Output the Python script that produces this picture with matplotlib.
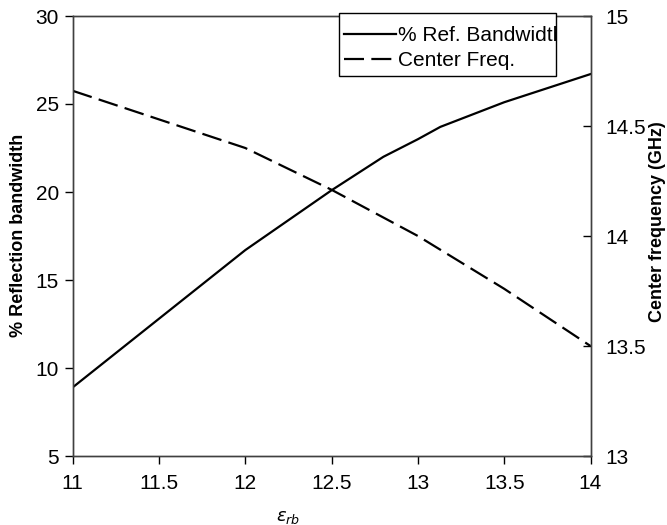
import matplotlib
matplotlib.use("Agg")
import matplotlib.pyplot as plt
from matplotlib.patches import Rectangle

# values
eps_bw = [11, 11.5, 12, 12.5, 12.8, 13, 13.13, 13.5, 14]
ref_bw = [8.9, 12.8, 16.7, 20.1, 22.0, 23.0, 23.7, 25.1, 26.7]

eps_fc = [11, 11.5, 12, 12.5, 13, 13.5, 14]
center_freq = [14.66, 14.53, 14.40, 14.21, 14.00, 13.76, 13.50]

x_ticks = [11, 11.5, 12, 12.5, 13, 13.5, 14]
left_ticks = [5, 10, 15, 20, 25, 30]
right_ticks = [13, 13.5, 14, 14.5, 15]

plt.rcParams['font.family'] = ['Liberation Sans', 'DejaVu Sans']

W, H = 667, 525
fig = plt.figure(figsize=(W / 100, H / 100), dpi=100)
ax = fig.add_axes([72.7 / W, 1 - 456 / H, (590.5 - 72.7) / W, 440 / H])
ax2 = ax.twinx()

l1, = ax.plot(eps_bw, ref_bw, color='black', lw=1.6, label='% Ref. Bandwidth')
l2, = ax2.plot(eps_fc, center_freq, color='black', lw=1.6, dashes=(9, 3.3), label='Center Freq.')

ax.set_xlim(11, 14)
ax.set_ylim(5, 30)
ax2.set_ylim(13, 15)
ax.set_xticks(x_ticks)
ax.set_xticklabels([f"{t:g}" for t in x_ticks])
ax.set_yticks(left_ticks)
ax2.set_yticks(right_ticks)
ax2.set_yticklabels([f"{t:g}" for t in right_ticks])

ax.tick_params(direction='out', length=6, width=1, labelsize=15, colors='black')
ax.tick_params(axis='x', pad=7)
ax.tick_params(axis='y', pad=4)
ax2.tick_params(direction='in', length=6, width=1, labelsize=15, colors='black', pad=11)
for a in (ax, ax2):
    for s in a.spines.values():
        s.set_color('#404040')
        s.set_linewidth(1)

fig.text(19 / W, 1 - 235 / H, '% Reflection bandwidth', rotation=90, fontsize=13,
         fontweight='bold', ha='center', va='center')
fig.text(657 / W, 1 - 222 / H, 'Center frequency (GHz)', rotation=90, fontsize=13,
         fontweight='bold', ha='center', va='center')
fig.text(288 / W, 1 - 517 / H, r'$\varepsilon_{rb}$', fontsize=13, family='serif',
         ha='center', va='center')

# legend box with the label clipped at its right edge, as in the reference
box = Rectangle((339 / W, 1 - 76 / H), (556 - 339) / W, 63 / H, transform=fig.transFigure,
                facecolor='white', edgecolor='black', lw=1, zorder=4)
fig.patches.append(box)
leg = fig.legend(handles=[l1, l2], loc='upper left', bbox_to_anchor=(339 / W, 1 - 21 / H),
                 fontsize=15, frameon=False, handlelength=2.5, handletextpad=0.1,
                 borderpad=0.25, labelspacing=0.3, borderaxespad=0)
leg.set_zorder(5)
for t in leg.get_texts():
    t.set_clip_path(box)

fig.savefig('out.png', dpi=100)
